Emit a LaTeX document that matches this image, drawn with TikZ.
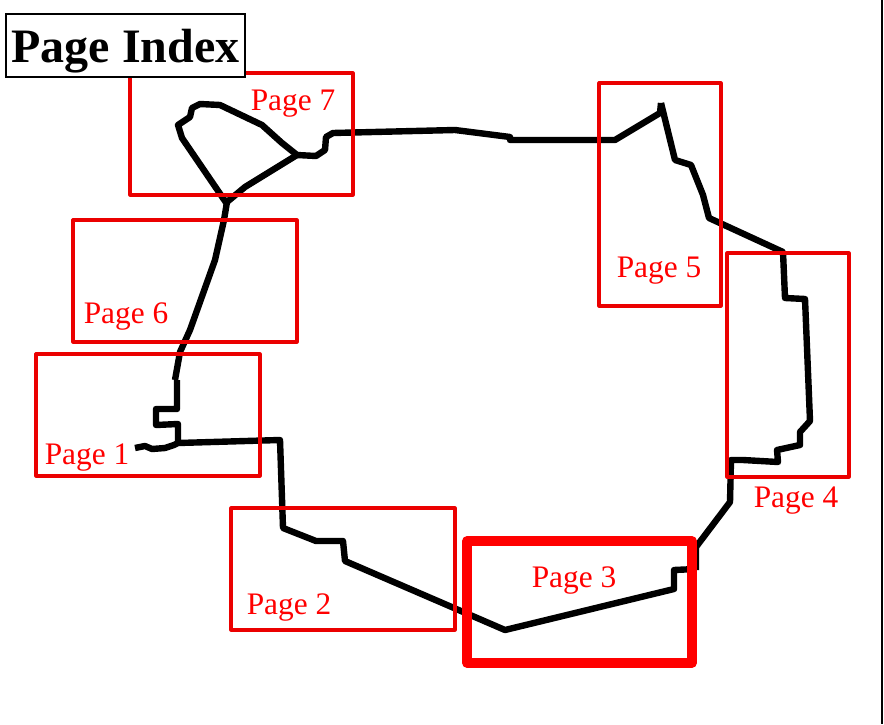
\documentclass[tikz,border=0pt]{standalone}
\usepackage{fontspec}
\setmainfont{Liberation Serif}
\tikzset{
    track/.style={black, line width=4.8pt, line join=round},
    pagebox/.style={red!92!black, line width=2.4pt, line join=round},
    pagelabel/.style={red, font=\fontsize{23.5}{26}\selectfont},
}

\begin{document}
\begin{tikzpicture}[x=0.75pt, y=-0.75pt]
    \useasboundingbox (0,0) rectangle (884,724);

    % Route
    \draw[track] (135,448) -- (145,446) -- (152,449) -- (165,448) -- (174,445) -- (178,443)
        -- (280,440) -- (283,528) -- (316,541) -- (343,541) -- (345,561) -- (505,630)
        -- (674,589) -- (674,570) -- (696,569);
    \draw[track] (696,570) -- (696,547) -- (730,502) -- (731,460) -- (743,460) -- (778,462)
        -- (777,450) -- (800,445) -- (800,432) -- (810,421) -- (805,299) -- (785,298)
        -- (783,252) -- (709,218) -- (703,195) -- (691,165) -- (675,160) -- (661,103);
    \draw[track] (661,103) -- (660,113) -- (615,140) -- (510,140) -- (510,137) -- (455,130) -- (333,133)
        -- (326,137) -- (325,150) -- (316,156) -- (297,155);

    % Loop
    \draw[track] (297,155) -- (282,143) -- (262,125) -- (220,105) -- (200,104) -- (192,108)
        -- (190,117) -- (178,125) -- (182,138) -- (227,204);
    \draw[track] (297,155) -- (245,187) -- (227,202) -- (224,220) -- (215,260) -- (190,330)
        -- (180,352) -- (175,380);
    \draw[track] (177,380) -- (177,409) -- (156,409) -- (156,425) -- (178,424) -- (178,443);

    % Page boxes
    \draw[pagebox] (130,73) rectangle (353,195);
    \draw[pagebox] (73,220) rectangle (297,342);
    \draw[pagebox] (36,354) rectangle (260,476);
    \draw[pagebox] (231,508) rectangle (455,630);
    \draw[pagebox, red, line width=7pt] (467,541) rectangle (692,663);
    \draw[pagebox] (727,253) rectangle (849,477);
    \draw[pagebox] (599,83) rectangle (721,306);

    \node[pagelabel] (page7) at (293,104) {Page 7};
    \node[pagelabel] (page6) at (126,317) {Page 6};
    \node[pagelabel] (page1) at (87,458) {Page 1};
    \node[pagelabel] (page2) at (289,607) {Page 2};
    \node[pagelabel] (page3) at (574,580) {Page 3};
    \node[pagelabel] (page4) at (796,501) {Page 4};
    \node[pagelabel] (page5) at (659,271) {Page 5};

    % Title and right edge
    \draw[black, line width=1.6pt, fill=white] (6,14) rectangle (245,77);
    \node[font=\fontsize{36}{40}\selectfont\bfseries] (title) at (125.5,51) {Page Index};
    \draw[black, line width=1.8pt] (882,0) -- (882,724);
\end{tikzpicture}
\end{document}
